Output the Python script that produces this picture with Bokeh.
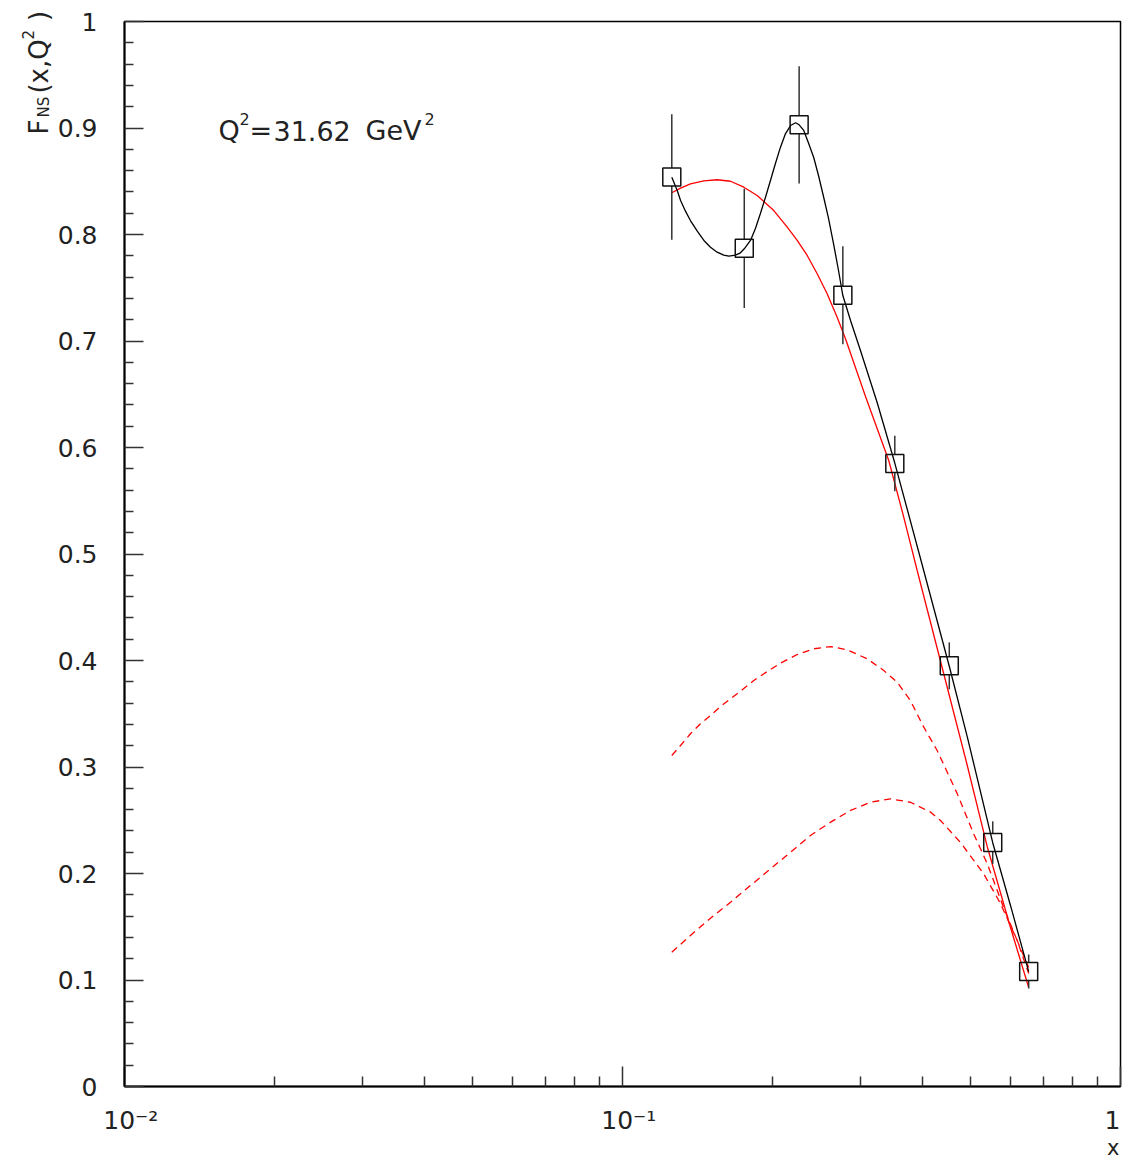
import math
from bokeh.plotting import figure
from bokeh.models import Range1d, FixedTicker, Label
from bokeh.embed import file_html
from bokeh.resources import INLINE

# ---------------- data ----------------
data_x = [0.1256, 0.1756, 0.2263, 0.2770, 0.3522, 0.4531, 0.5539, 0.6541]
data_y = [0.854, 0.787, 0.903, 0.743, 0.585, 0.395, 0.229, 0.108]
data_err = [0.059, 0.056, 0.055, 0.046, 0.026, 0.022, 0.020, 0.016]

fit_x = [0.1256, 0.1268, 0.1288, 0.1308, 0.1338, 0.1369, 0.1413, 0.1457, 0.1502,
         0.1549, 0.1597, 0.1635, 0.1686, 0.1725, 0.1756, 0.1807, 0.1849, 0.1892,
         0.1937, 0.1982, 0.2028, 0.2076, 0.2125, 0.2175, 0.2226, 0.2263, 0.2312,
         0.2366, 0.2421, 0.2475, 0.2533, 0.2593, 0.2653, 0.2715, 0.2770, 0.2870,
         0.3005, 0.3246, 0.3522, 0.3966, 0.4531, 0.4923, 0.5539, 0.6013, 0.6541]
fit_y = [0.8537, 0.8491, 0.8413, 0.8319, 0.8219, 0.8131, 0.8031, 0.7944, 0.7881,
         0.7834, 0.7806, 0.7796, 0.7806, 0.7828, 0.7866, 0.7944, 0.8056, 0.8197,
         0.8350, 0.8507, 0.8667, 0.8820, 0.8948, 0.9023, 0.9049, 0.9030, 0.8977,
         0.8852, 0.8723, 0.8554, 0.8357, 0.8150, 0.7915, 0.7662, 0.7427, 0.7192,
         0.6911, 0.6423, 0.5854, 0.4958, 0.3946, 0.3286, 0.2289, 0.1700, 0.1078]

total_x = [0.1256, 0.1308, 0.1369, 0.1457, 0.1549, 0.1648, 0.1752, 0.1864, 0.2013,
           0.2142, 0.2243, 0.2349, 0.2460, 0.2576, 0.2698, 0.2804, 0.3076, 0.3425,
           0.3650, 0.3906, 0.4452, 0.4907, 0.5399, 0.6013, 0.6541]
total_y = [0.8392, 0.8435, 0.8476, 0.8504, 0.8514, 0.8500, 0.8444, 0.8366, 0.8225,
           0.8069, 0.7944, 0.7803, 0.7631, 0.7443, 0.7224, 0.7021, 0.6479, 0.5878,
           0.5390, 0.4845, 0.3812, 0.3042, 0.2254, 0.1493, 0.0930]

comp1_x = [0.1256, 0.1308, 0.1369, 0.1434, 0.1502, 0.1573, 0.1648, 0.1725, 0.1835,
           0.1953, 0.2076, 0.2243, 0.2421, 0.2617, 0.2827, 0.3100, 0.3347, 0.3561,
           0.3786, 0.4027, 0.4284, 0.4699, 0.5068, 0.5399, 0.5823, 0.6202, 0.6541]
comp1_y = [0.3108, 0.3202, 0.3312, 0.3406, 0.3484, 0.3568, 0.3640, 0.3712, 0.3812,
           0.3897, 0.3975, 0.4056, 0.4110, 0.4131, 0.4100, 0.4016, 0.3906, 0.3796,
           0.3624, 0.3374, 0.3155, 0.2751, 0.2376, 0.2094, 0.1681, 0.1371, 0.1061]

comp2_x = [0.1256, 0.1369, 0.1502, 0.1648, 0.1807, 0.1982, 0.2175, 0.2385, 0.2617,
           0.2870, 0.3148, 0.3453, 0.3786, 0.4156, 0.4351, 0.4772, 0.5308, 0.5741,
           0.6202, 0.6541]
comp2_y = [0.1261, 0.1418, 0.1580, 0.1731, 0.1887, 0.2044, 0.2200, 0.2357, 0.2482,
           0.2592, 0.2669, 0.2701, 0.2669, 0.2576, 0.2498, 0.2291, 0.2000, 0.1718,
           0.1371, 0.1117]

y_ticks = [0.0, 0.1, 0.2, 0.3, 0.4, 0.5, 0.6, 0.7, 0.8, 0.9, 1.0]
y_tick_labels = ["0", "0.1", "0.2", "0.3", "0.4", "0.5", "0.6", "0.7", "0.8", "0.9", "1"]
x_ticks = [0.01, 0.1, 1.0]
x_tick_labels = ["\u200210\u207b\u00b2", "\u200210\u207b\u00b9", "1\u2009"]

# ---------------- layout ----------------
W, H = 1125, 1162
FL, FR, FT, FB = 124, 1120, 21, 1086
FONT = "DejaVu Sans"
TXT = "#222222"


def sx(px):
    return 10 ** (-2 + (px - FL) / ((FR - FL) / 2.0))


def sy(py):
    return (FB - py) / float(FB - FT)


p = figure(width=W, height=H, x_axis_type="log",
           x_range=Range1d(0.01, 1.0), y_range=Range1d(0.0, 1.0),
           output_backend="svg", toolbar_location=None,
           min_border_left=FL, min_border_right=W - FR,
           min_border_top=FT, min_border_bottom=H - FB)
p.xgrid.visible = False
p.ygrid.visible = False
p.background_fill_color = "white"
p.border_fill_color = "white"
p.outline_line_color = "black"
p.outline_line_width = 1.5

# y axis
y_minor = [round(0.02 * i, 2) for i in range(51) if i % 5]
p.yaxis.ticker = FixedTicker(ticks=y_ticks, minor_ticks=y_minor)
p.yaxis.major_label_overrides = dict(zip(y_ticks, y_tick_labels))
p.yaxis.axis_line_width = 2
p.yaxis.axis_line_color = "black"
p.yaxis.major_tick_in = 19
p.yaxis.major_tick_out = 0
p.yaxis.minor_tick_in = 9
p.yaxis.minor_tick_out = 0
p.yaxis.major_tick_line_width = 1.5
p.yaxis.minor_tick_line_width = 1.5
p.yaxis.major_tick_line_color = "#333333"
p.yaxis.minor_tick_line_color = "#333333"
p.yaxis.major_label_standoff = 27
p.yaxis.major_label_text_font = FONT
p.yaxis.major_label_text_font_size = "25px"
p.yaxis.major_label_text_color = TXT

# x axis
x_minor = [m * 10.0 ** e for e in (-2, -1) for m in range(2, 10)]
p.xaxis.ticker = FixedTicker(ticks=x_ticks, minor_ticks=x_minor)
p.xaxis.major_label_overrides = dict(zip(x_ticks, x_tick_labels))
p.xaxis.axis_line_width = 2
p.xaxis.axis_line_color = "black"
p.xaxis.major_tick_in = 20
p.xaxis.major_tick_out = 0
p.xaxis.minor_tick_in = 10
p.xaxis.minor_tick_out = 0
p.xaxis.major_tick_line_width = 1.5
p.xaxis.minor_tick_line_width = 1.5
p.xaxis.major_tick_line_color = "#333333"
p.xaxis.minor_tick_line_color = "#333333"
p.xaxis.major_label_text_font = FONT
p.xaxis.major_label_text_font_size = "25px"
p.xaxis.major_label_text_color = TXT
p.xaxis.major_label_standoff = 19

# ---------------- curves ----------------
p.line(comp1_x, comp1_y, line_color="#ff0000", line_width=1.3, line_dash="7 5")
p.line(comp2_x, comp2_y, line_color="#ff0000", line_width=1.3, line_dash="7 5")
p.line(total_x, total_y, line_color="#ff0000", line_width=1.3)
p.line(fit_x, fit_y, line_color="black", line_width=1.3)

# error bars (gap inside the marker)
half = 9.0 / (FB - FT)
up0, up1, lo0, lo1 = [], [], [], []
for y, e in zip(data_y, data_err):
    up0.append(y + half)
    up1.append(y + max(e, half))
    lo0.append(y - half)
    lo1.append(y - max(e, half))
p.segment(x0=data_x, y0=up0, x1=data_x, y1=up1, line_color="#333333", line_width=1.5)
p.segment(x0=data_x, y0=lo0, x1=data_x, y1=lo1, line_color="#333333", line_width=1.5)
p.scatter(data_x, data_y, marker="square", size=18, fill_color=None,
          line_color="#111111", line_width=1.5)


# ---------------- texts ----------------
def lab(text, px, py, size, align="left", baseline="alphabetic", angle=0.0,
        place="center"):
    """Label placed in data units; texts outside the frame live in a side panel."""
    p.add_layout(Label(x=sx(px), y=sy(py), text=text, text_font=FONT,
                       text_font_size=f"{size}px", text_color=TXT,
                       text_align=align, text_baseline=baseline,
                       angle=angle, angle_units="rad"), place)


# axis title "x"
lab("x", 1119, 1147, 21, align="right", baseline="middle", place="below")

# y title  F_NS(x,Q^2)
r = math.pi / 2
lab("F\u2003(x,Q\u2002\u2009)", 38, 134, 26, angle=r, place="left")
lab("NS", 43, 117, 15, angle=r, place="left")
lab("2", 27, 39, 15, angle=r, place="above")

# Q^2 annotation
lab("Q", 218, 130, 27)
lab("2", 239, 118, 16)
lab("=", 249, 130, 27)
lab("31.62", 273, 130, 27)
lab("GeV", 365, 130, 27)
lab("2", 424, 118, 16)

open("out.html", "w").write(file_html(p, INLINE))
